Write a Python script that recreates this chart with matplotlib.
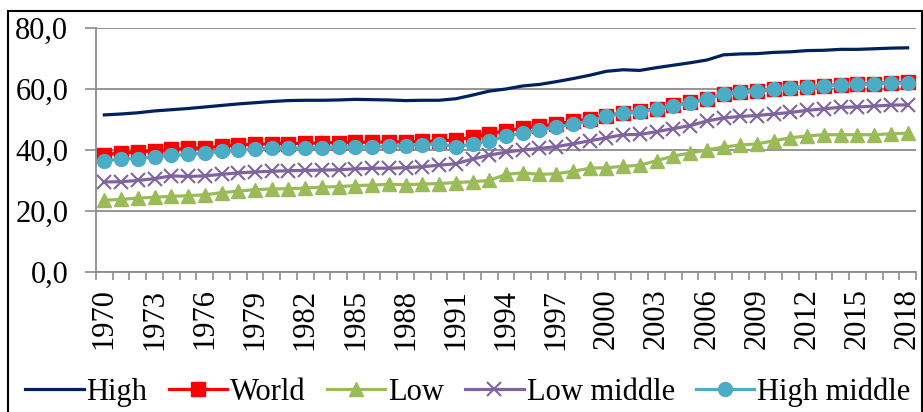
import numpy as np
import matplotlib
matplotlib.use("Agg")
import matplotlib.pyplot as plt
from matplotlib.patches import Rectangle
from matplotlib.ticker import FuncFormatter

plt.rcParams['font.family'] = ['Liberation Serif', 'DejaVu Serif']

years = list(range(1970, 2019))

high = [51.5, 51.8, 52.2, 52.8, 53.2, 53.6, 54.1, 54.6, 55.1, 55.5, 55.9, 56.2, 56.3,
        56.3, 56.4, 56.6, 56.5, 56.4, 56.2, 56.3, 56.3, 56.8, 58.0, 59.3, 60.0, 61.0,
        61.5, 62.4, 63.4, 64.5, 65.8, 66.3, 66.1, 67.0, 67.8, 68.6, 69.5, 71.2, 71.5,
        71.6, 72.0, 72.2, 72.6, 72.7, 73.0, 73.0, 73.2, 73.4, 73.5]
world = [38.5, 39.0, 39.4, 39.8, 40.2, 40.5, 40.8, 41.2, 41.6, 41.9, 42.0, 42.1, 42.2,
         42.3, 42.4, 42.5, 42.6, 42.6, 42.7, 42.8, 43.0, 43.3, 44.2, 45.3, 46.3, 47.2,
         47.8, 48.5, 49.4, 50.2, 51.3, 52.2, 52.7, 53.6, 54.6, 55.6, 56.8, 58.3, 58.9,
         59.3, 59.9, 60.4, 60.8, 61.1, 61.4, 61.6, 61.8, 62.1, 62.2]
low = [23.5, 23.8, 24.2, 24.5, 24.8, 25.0, 25.3, 26.0, 26.5, 27.0, 27.2, 27.3, 27.5,
       27.8, 28.0, 28.3, 28.5, 28.7, 28.6, 28.8, 29.0, 29.3, 29.6, 30.0, 32.0, 32.5,
       32.0, 32.2, 33.0, 34.0, 34.2, 34.6, 35.0, 36.5, 38.0, 39.0, 40.0, 41.0, 41.6,
       42.0, 43.0, 44.0, 44.6, 45.0, 45.0, 45.0, 45.0, 45.3, 45.5]
low_middle = [29.5, 29.6, 30.0, 30.6, 31.5, 31.3, 31.5, 32.0, 32.5, 32.8, 33.0, 33.2, 33.3,
              33.4, 33.5, 33.8, 34.0, 34.0, 34.2, 34.5, 35.0, 35.5, 37.0, 38.3, 39.3, 40.0,
              40.5, 41.1, 42.0, 43.0, 44.0, 45.0, 45.1, 46.0, 47.0, 48.0, 49.5, 50.5, 51.0,
              51.3, 51.8, 52.3, 53.0, 53.5, 54.0, 54.1, 54.4, 54.7, 54.8]
high_middle = [36.5, 37.0, 37.2, 37.8, 38.2, 38.6, 39.0, 39.5, 40.0, 40.3, 40.5, 40.5, 40.7,
               40.8, 41.0, 41.0, 41.0, 41.2, 41.4, 41.7, 42.0, 41.0, 42.0, 43.0, 44.5, 45.5,
               46.5, 47.5, 48.5, 49.5, 51.0, 52.0, 52.5, 53.5, 54.5, 55.5, 56.7, 58.3, 59.0,
               59.3, 60.0, 60.3, 60.7, 61.0, 61.3, 61.5, 61.7, 62.0, 62.0]

x = np.arange(len(years))

fig = plt.figure(figsize=(9.23, 4.12), dpi=100)
ax = fig.add_axes([0.104, 0.34, 0.8884, 0.592])

ax.plot(x, high, color='#002060', lw=2.3, label='High')
ax.plot(x, world, color='#FF0000', lw=2.3, marker='s', ms=10, label='World')
ax.plot(x, low, color='#9BBB59', lw=2.3, marker='^', ms=10, label='Low')
ax.plot(x, low_middle, color='#8064A2', lw=2.3, marker='x', ms=10, mew=1.5, label='Low middle')
ax.plot(x, high_middle, color='#4BACC6', lw=2.3, marker='o', ms=10, label='High middle')

ax.set_ylim(0, 80)
ax.set_yticks([0, 20, 40, 60, 80])
ax.yaxis.set_major_formatter(FuncFormatter(lambda v, p: f"{v:.1f}".replace('.', ',')))
ax.grid(axis='y', color='#8c8c8c', lw=1.3)
ax.set_axisbelow(True)

ax.set_xlim(-0.5, len(years) - 0.5)
ax.set_xticks(x[::3])
ax.set_xticklabels([str(y) for y in years[::3]], rotation=90)
ax.set_xticks(np.arange(-0.5, len(years)), minor=True)
ax.tick_params(axis='x', which='major', length=0, labelsize=22, pad=12)
ax.tick_params(axis='x', which='minor', length=6, color='#8c8c8c', width=1.2)
ax.tick_params(axis='y', length=8, color='#8c8c8c', width=1.2, labelsize=22, pad=12)

for s in ['top', 'right']:
    ax.spines[s].set_visible(False)
for s in ['left', 'bottom']:
    ax.spines[s].set_color('#8c8c8c')
    ax.spines[s].set_linewidth(1.3)

fig.legend(loc='center', bbox_to_anchor=(0.507, 0.048), ncol=5, frameon=False,
           fontsize=22, handlelength=1.9, handletextpad=0.1, columnspacing=0.7,
           borderpad=0, borderaxespad=0)

fig.patches.append(Rectangle((0.009, -0.02), 0.99, 0.993, transform=fig.transFigure,
                             fill=False, edgecolor='black', lw=1.5))

fig.savefig('out.png', dpi=100)
